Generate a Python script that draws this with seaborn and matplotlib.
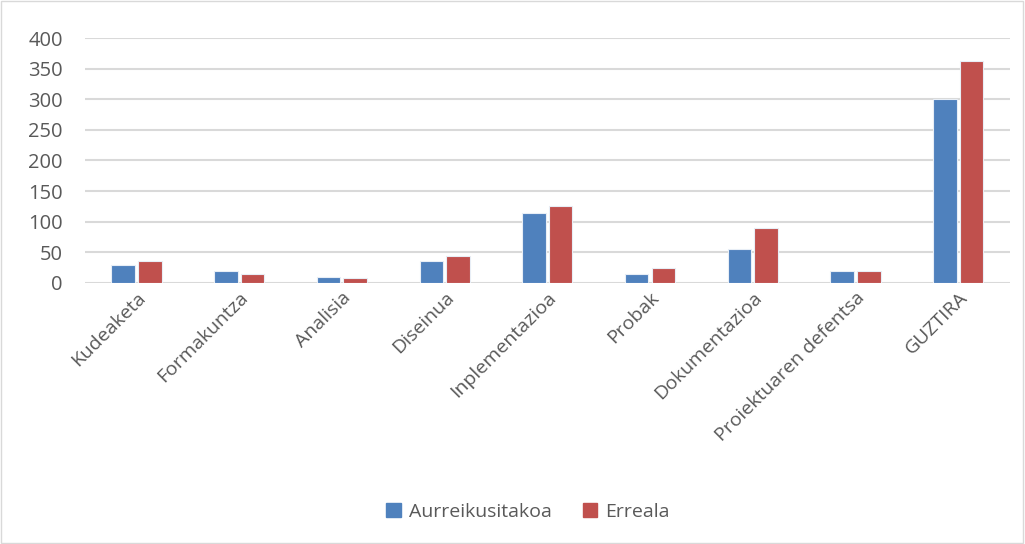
import seaborn as sns
import matplotlib.pyplot as plt
import pandas as pd

categories = ['Kudeaketa', 'Formakuntza', 'Analisia', 'Diseinua', 'Inplementazioa',
              'Probak', 'Dokumentazioa', 'Proiektuaren defentsa', 'GUZTIRA']
aurreikusitakoa = [30, 20, 10, 35, 115, 15, 55, 20, 300]
erreala = [36, 15, 8, 44, 125, 25, 90, 20, 362]
series = ['Aurreikusitakoa', 'Erreala']


def operation():
    sns.set_style('white')
    plt.rcParams['font.family'] = ['Open Sans', 'DejaVu Sans']

    df = pd.DataFrame({
        'kategoria': categories * 2,
        'balioa': aurreikusitakoa + erreala,
        'serie': [series[0]] * len(categories) + [series[1]] * len(categories),
    })

    fig = plt.figure(figsize=(10.25, 5.44), dpi=100)
    ax = fig.add_axes([0.083, 0.480, 0.902, 0.450])

    sns.barplot(data=df, x='kategoria', y='balioa', hue='serie', ax=ax,
                palette=['#4F81BD', '#C0504D'], saturation=1, width=0.52, gap=0.12,
                edgecolor='#E8EEF6', linewidth=0.8, legend=False, zorder=3)

    ax.set_ylim(0, 400)
    ax.set_yticks(range(0, 401, 50))
    ax.set_xlim(-0.5, len(categories) - 0.5)
    ax.grid(axis='y', color='#D9D9D9', linewidth=1.5, zorder=0)
    ax.set_xlabel('')
    ax.set_ylabel('')
    for s in ax.spines.values():
        s.set_visible(False)
    ax.tick_params(axis='both', length=0, colors='#595959', labelsize=14)
    ax.tick_params(axis='y', pad=16, labelsize=14.5)
    ax.tick_params(axis='x', pad=4)
    ax.set_xticks(range(len(categories)))
    ax.set_xticklabels(categories, rotation=45, ha='right', rotation_mode='anchor')

    handles = [plt.Rectangle((0, 0), 1, 1, color=c) for c in ['#4F81BD', '#C0504D']]
    fig.legend(handles, series, loc='center', bbox_to_anchor=(0.515, 0.059), ncol=2,
               frameon=False, fontsize=14, handlelength=0.75, handleheight=0.75,
               columnspacing=1.6, handletextpad=0.4, labelcolor='#595959')

    fig.patches.append(plt.Rectangle((0.001, 0.002), 0.997, 0.996, transform=fig.transFigure,
                                     fill=False, edgecolor='#D9D9D9', linewidth=1))

    fig.savefig('out.png', dpi=100)


if __name__ == "__main__":
    operation()
